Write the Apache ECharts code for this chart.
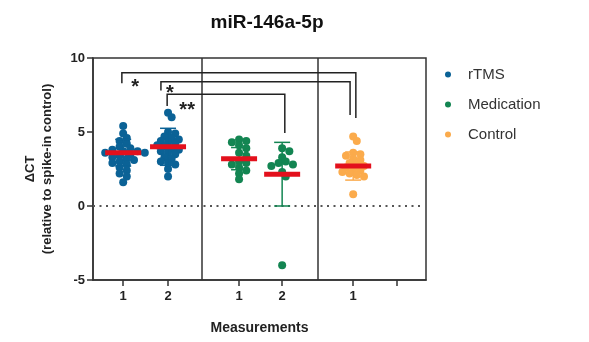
<!DOCTYPE html>
<html>
<head>
<meta charset="utf-8">
<script src="https://cdn.jsdelivr.net/npm/echarts@6/dist/echarts.min.js"></script>
<style>
  html, body { margin: 0; padding: 0; background: #fff; }
  #chart { width: 589px; height: 342px; }
</style>
</head>
<body>
<div id="chart"></div>
<script>
// x positions of each measurement column (value axis units)
const tickPos = [0.68, 1.69, 3.29, 4.26, 5.86, 6.85];
const tickLabels = ['1', '2', '1', '2', '1', ''];
const separators = [2.45, 5.07];

const groups = ['rTMS', 'Medication', 'Control'];
const colors = ['#0b6296', '#138552', '#fbab4c'];

// ΔCt values
const rtms1 = [5.4, 4.9, 4.6, 4.4, 4.2, 4.0, 3.9, 3.8, 3.7, 3.7, 3.6, 3.6, 3.5, 3.4, 3.3, 3.2, 3.1, 3.0, 2.9, 2.8, 2.6, 2.4, 2.2, 2.0, 1.6];
const rtms2 = [6.3, 6.0, 5.0, 4.9, 4.7, 4.6, 4.5, 4.4, 4.3, 4.2, 4.1, 4.0, 3.9, 3.8, 3.7, 3.6, 3.5, 3.3, 3.2, 3.0, 2.9, 2.8, 2.5, 2.0];
const med1 = [4.5, 4.4, 4.3, 4.1, 3.9, 3.6, 3.4, 3.0, 2.9, 2.8, 2.6, 2.4, 2.2, 1.8];
const med2 = [3.9, 3.7, 3.3, 3.0, 2.9, 2.8, 2.7, 2.3, 2.0, -4.0];
const ctrl1 = [4.7, 4.4, 3.6, 3.5, 3.4, 3.2, 3.1, 2.9, 2.8, 2.7, 2.6, 2.5, 2.4, 2.3, 2.2, 2.1, 2.0, 0.8];

const columns = [rtms1, rtms2, med1, med2, ctrl1];
const columnGroup = [0, 0, 1, 1, 2];
const means = [3.6, 4.0, 3.2, 2.15, 2.7];
const sds = [0.9, 1.25, 0.75, 2.15, 0.95];

// significance brackets: [xLeft, yLeftEnd, yTop, xRight, yRightEnd]
const brackets = [
  [0.65, 8.3, 9.0, 5.92, 5.95],
  [1.53, 7.8, 8.4, 5.79, 6.15],
  [1.67, 6.75, 7.55, 4.32, 4.93]
];
const stars = [['*', 0.95, 8.3], ['*', 1.73, 7.9], ['**', 2.12, 6.75]];

const grid = { left: 93, right: 163, top: 58, bottom: 62 };
const xMin = 0, xMax = 7.5, yMin = -5, yMax = 10;
const pxX = (589 - grid.left - grid.right) / (xMax - xMin);
const pxY = (342 - grid.top - grid.bottom) / (yMax - yMin);
const dotSize = 8;

// simple beeswarm so dots do not pile on each other
function swarm(values, cx) {
  const placed = [];
  const out = [];
  const sorted = values.slice().sort((a, b) => b - a);
  sorted.forEach(v => {
    let k = 0, off = 0;
    while (true) {
      off = (k % 2 === 1 ? 1 : -1) * Math.ceil(k / 2) * dotSize * 0.45;
      const hit = placed.some(p => {
        const dx = p[0] - off, dy = (p[1] - v) * pxY;
        return Math.sqrt(dx * dx + dy * dy) < dotSize * 0.66;
      });
      if (!hit) break;
      k++;
    }
    placed.push([off, v]);
    out.push([cx + off / pxX, v]);
  });
  return out;
}

const scatterData = groups.map(() => []);
columns.forEach((vals, i) => {
  scatterData[columnGroup[i]].push(...swarm(vals, tickPos[i]));
});

const statData = means.map((m, i) => [tickPos[i], m, sds[i], columnGroup[i]]);

const chart = echarts.init(document.getElementById('chart'));
const series = groups.map((g, gi) => ({
  name: g,
  type: 'scatter',
  data: scatterData[gi],
  symbolSize: dotSize,
  itemStyle: { color: colors[gi], opacity: 1 },
  z: 3
}));

// column separators
series[0].markLine = {
  silent: true,
  symbol: 'none',
  label: { show: false },
  lineStyle: { color: '#333', width: 1.5, type: 'solid' },
  data: separators.map(x => ({ xAxis: x }))
};

// dotted zero line
series.push({
  type: 'custom',
  name: 'zero',
  data: [[0]],
  z: 2,
  silent: true,
  renderItem: (params, api) => {
    const a = api.coord([xMin, api.value(0)]);
    const b = api.coord([xMax - 0.08, api.value(0)]);
    return {
      type: 'line',
      shape: { x1: a[0], y1: a[1], x2: b[0], y2: b[1] },
      style: { stroke: '#555', lineWidth: 2, lineDash: [2, 4.5] }
    };
  }
});

series.push({
  type: 'custom',
  name: 'errors',
  data: statData,
  z: 4,
  renderItem: (params, api) => {
    const x = api.value(0), m = api.value(1), s = api.value(2);
    const c = colors[api.value(3)];
    const top = api.coord([x, m + s]);
    const bot = api.coord([x, m - s]);
    const cap = 8;
    return {
      type: 'group',
      children: [
        { type: 'line', shape: { x1: top[0], y1: top[1], x2: bot[0], y2: bot[1] }, style: { stroke: c, lineWidth: 1.5 } },
        { type: 'line', shape: { x1: top[0] - cap, y1: top[1], x2: top[0] + cap, y2: top[1] }, style: { stroke: c, lineWidth: 1.5 } },
        { type: 'line', shape: { x1: bot[0] - cap, y1: bot[1], x2: bot[0] + cap, y2: bot[1] }, style: { stroke: c, lineWidth: 1.5 } }
      ]
    };
  }
});

series.push({
  type: 'custom',
  name: 'means',
  data: statData,
  z: 5,
  renderItem: (params, api) => {
    const p = api.coord([api.value(0), api.value(1)]);
    return { type: 'rect', shape: { x: p[0] - 18, y: p[1] - 2.5, width: 36, height: 5 }, style: { fill: '#e3101c' } };
  }
});

series.push({
  type: 'custom',
  name: 'brackets',
  data: brackets,
  z: 6,
  renderItem: (params, api) => {
    const a = api.coord([api.value(0), api.value(1)]);
    const b = api.coord([api.value(0), api.value(2)]);
    const c = api.coord([api.value(3), api.value(2)]);
    const d = api.coord([api.value(3), api.value(4)]);
    return { type: 'polyline', shape: { points: [a, b, c, d] }, style: { stroke: '#222', lineWidth: 1.5, fill: null } };
  }
});

series.push({
  type: 'custom',
  name: 'stars',
  data: stars.map(s => [s[1], s[2], s[0]]),
  z: 6,
  renderItem: (params, api) => {
    const p = api.coord([api.value(0), api.value(1)]);
    return {
      type: 'text',
      x: p[0], y: p[1] + 4,
      style: { text: api.value(2), font: 'bold 20px Arial', fill: '#222', align: 'center', verticalAlign: 'middle' }
    };
  }
});

chart.setOption({
  animation: false,
  title: {
    text: 'miR-146a-5p',
    left: 262, top: 8, textAlign: 'center',
    textStyle: { fontFamily: 'Arial', fontWeight: 'bold', fontSize: 19, color: '#111' }
  },
  legend: {
    data: groups,
    orient: 'vertical',
    left: 440, top: 62,
    itemGap: 15,
    icon: 'circle',
    itemWidth: 6, itemHeight: 6,
    textStyle: { fontFamily: 'Arial', fontSize: 15, color: '#333', padding: [0, 0, 0, 12] }
  },
  grid: { ...grid, show: true, borderColor: '#333', borderWidth: 1.5, backgroundColor: 'transparent' },
  xAxis: {
    type: 'value', min: xMin, max: xMax,
    name: 'Measurements', nameLocation: 'middle', nameGap: 41,
    nameTextStyle: { fontFamily: 'Arial', fontWeight: 'bold', fontSize: 14, color: '#222' },
    splitLine: { show: false },
    axisLine: { onZero: false, lineStyle: { color: '#333', width: 1.5 } },
    axisTick: { customValues: tickPos, length: 6, lineStyle: { color: '#333', width: 1.5 } },
    axisLabel: {
      customValues: tickPos.slice(0, 5),
      formatter: v => tickLabels[tickPos.indexOf(v)] || '',
      fontFamily: 'Arial', fontWeight: 'bold', fontSize: 13, color: '#222', margin: 10
    }
  },
  yAxis: {
    type: 'value', min: yMin, max: yMax, interval: 5,
    name: 'ΔCT\n(relative to spike-in control)', nameLocation: 'middle', nameRotate: 90, nameGap: 37,
    nameTextStyle: { fontFamily: 'Arial', fontWeight: 'bold', fontSize: 13, color: '#222', lineHeight: 17 },
    splitLine: { show: false },
    axisLine: { show: true, onZero: false, lineStyle: { color: '#333', width: 1.5 } },
    axisTick: { show: true, length: 6, lineStyle: { color: '#333', width: 1.5 } },
    axisLabel: { fontFamily: 'Arial', fontWeight: 'bold', fontSize: 13, color: '#222', margin: 8 }
  },
  series: series
});
</script>
</body>
</html>
